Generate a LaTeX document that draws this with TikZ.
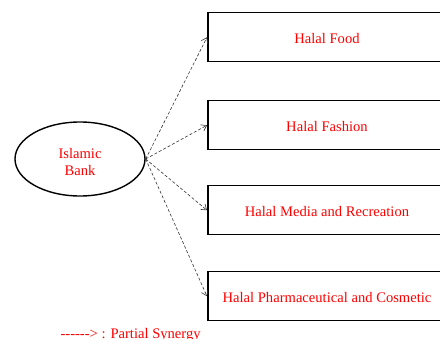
\documentclass[tikz,border=0pt]{standalone}
\usepackage{fontspec}
\setmainfont{Liberation Serif}
\usetikzlibrary{shapes.geometric,arrows.meta}
\begin{document}
\begin{tikzpicture}[x=1pt,y=-1pt,
  catbox/.style={draw,line width=1.5pt,minimum width=236pt,minimum height=49pt,anchor=north west,inner sep=0pt},
  lbl/.style={text=red,font=\fontsize{14.6}{17.5}\selectfont},
  syn/.style={densely dashed,line width=0.6pt,draw=black!80,-{Straight Barb[length=5pt,width=7pt]}}]
\useasboundingbox (0,0) rectangle (440,339);
\node[draw,ellipse,line width=1.4pt,minimum width=130pt,minimum height=74pt,inner sep=0pt] (bank) at (80,159) {};
\node[lbl,align=center] (banktxt) at (80,162) {Islamic\\Bank};
\node[catbox] (food) at (207,12) {};
\node[catbox] (fashion) at (207,100) {};
\node[catbox] (media) at (207,185) {};
\node[catbox] (pharma) at (207,271) {};
\node[lbl] at (327,39) {Halal Food};
\node[lbl] at (327,127) {Halal Fashion};
\node[lbl] at (327,212) {Halal Media and Recreation};
\node[lbl] at (327,298) {Halal Pharmaceutical and Cosmetic};
\draw[syn] (bank.east) -- (food.west);
\draw[syn] (bank.east) -- (fashion.west);
\draw[syn] (bank.east) -- (media.west);
\draw[syn] (bank.east) -- (pharma.west);
\node[lbl,anchor=west] (legend) at (57,335) {-{}-{}-{}-{}-{}-{}> : Partial Synergy};
\end{tikzpicture}
\end{document}
